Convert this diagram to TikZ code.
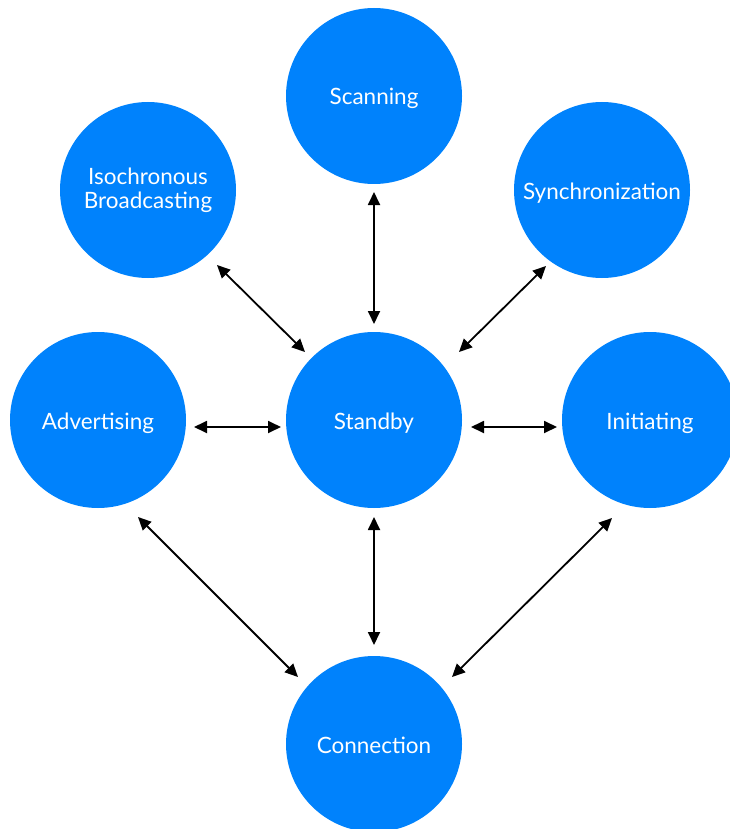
\documentclass[tikz,border=0pt]{standalone}
\usepackage{fontspec}
\setmainfont{Lato}
\usetikzlibrary{arrows.meta}
\definecolor{stateblue}{RGB}{0,130,252}
\begin{document}
\begin{tikzpicture}[x=1pt,y=-1pt,
  state/.style={circle,fill=stateblue,draw=none,minimum size=176pt,inner sep=0pt,
    text=white,font=\fontsize{22.5}{24}\selectfont,align=center},
  oneline/.style={state,text height=20pt,text depth=2pt},
  link/.style={line width=1.8pt,{Triangle[length=13pt,width=12pt]}-{Triangle[length=13pt,width=12pt]}}]
\useasboundingbox (0,0) rectangle (730,829);
\clip (0,0) rectangle (730,829);
\node[oneline] (scan) at (374,96) {Scanning};
\node[state] (iso) at (148,190) {Isochronous\\Broadcasting};
\node[oneline] (sync) at (602,190) {Synchronization};
\node[oneline] (adv) at (98,420) {Advertising};
\node[oneline] (stby) at (374,420) {Standby};
\node[oneline] (init) at (650,420) {Initiating};
\node[oneline] (conn) at (374,744) {Connection};
% connector end points
\coordinate (scanA) at (374,192);
\coordinate (scanB) at (374,324);
\coordinate (isoA) at (217,265);
\coordinate (isoB) at (305,352);
\coordinate (syncA) at (546,266);
\coordinate (syncB) at (459,352);
\coordinate (advA) at (194,427);
\coordinate (advB) at (281,427);
\coordinate (initA) at (471,427);
\coordinate (initB) at (557,427);
\coordinate (connA) at (374,517);
\coordinate (connB) at (374,645);
\coordinate (advcA) at (138,517);
\coordinate (advcB) at (298,677);
\coordinate (initcA) at (612,518);
\coordinate (initcB) at (452,677);
\draw[link] (scanA) -- (scanB);
\draw[link] (isoA) -- (isoB);
\draw[link] (syncA) -- (syncB);
\draw[link] (advA) -- (advB);
\draw[link] (initA) -- (initB);
\draw[link] (connA) -- (connB);
\draw[link] (advcA) -- (advcB);
\draw[link] (initcA) -- (initcB);
\end{tikzpicture}
\end{document}
